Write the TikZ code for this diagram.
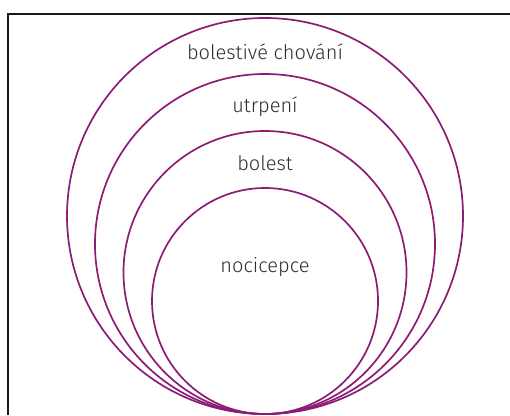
\documentclass[tikz,border=0pt]{standalone}
\usepackage{fontspec}
\setmainfont{Fira Sans Light}
\definecolor{ring}{RGB}{140,28,115}
\definecolor{txt}{RGB}{45,45,45}
\begin{document}
\begin{tikzpicture}[x=1pt,y=1pt,
  ringstyle/.style={draw=ring,line width=1.7pt},
  lbl/.style={text=txt,font=\fontsize{20}{22}\selectfont,inner sep=0pt},
  framestyle/.style={draw=black!90,line width=2pt}]
\useasboundingbox (0,0) rectangle (510,415);
\coordinate (bl) at (8,0);
\coordinate (tl) at (8,401);
\coordinate (tr) at (510,401);
\draw[framestyle] (bl) -- (tl) -- (tr);
\node[ringstyle,circle,minimum size=396pt,inner sep=0pt] (c1) at (265,199) {};
\node[ringstyle,circle,minimum size=340pt,inner sep=0pt] (c2) at (265,171) {};
\node[ringstyle,circle,minimum size=283pt,inner sep=0pt] (c3) at (265,142.5) {};
\node[ringstyle,circle,minimum size=226pt,inner sep=0pt] (c4) at (265,114) {};
\node[lbl] (t1) at (265,363) {bolestivé chování};
\node[lbl] (t2) at (265,308) {utrpení};
\node[lbl] (t3) at (265,252) {bolest};
\node[lbl] (t4) at (265,148) {nocicepce};
\end{tikzpicture}
\end{document}
